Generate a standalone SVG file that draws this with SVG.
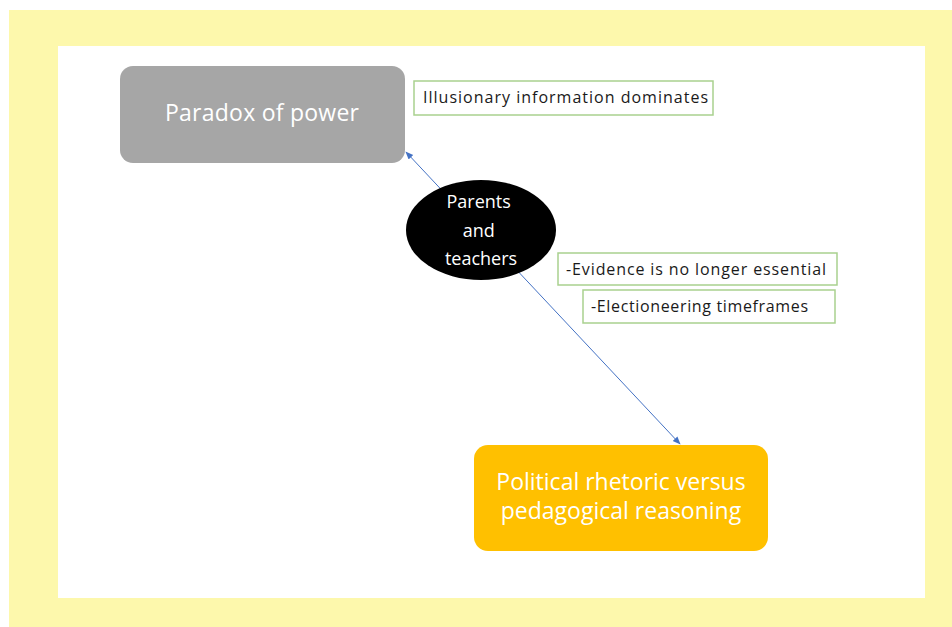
<svg xmlns="http://www.w3.org/2000/svg" width="952" height="627" viewBox="0 0 952 627">
  <defs>
    <marker id="arrow" viewBox="0 0 10 10" refX="9" refY="5" markerWidth="8" markerHeight="8" orient="auto-start-reverse" markerUnits="userSpaceOnUse">
      <path d="M0,1 L10,5 L0,9 z" fill="#4472c4"/>
    </marker>
  </defs>
  <style>
    .txt { font-family: "Open Sans", "Liberation Sans", sans-serif; }
    .big { fill: #ffffff; font-size: 23px; }
    .note { fill: #ffffff; stroke: #a9d18e; stroke-width: 1.5; }
    .notetxt { fill: #1a1a1a; font-size: 16px; }
  </style>

  <!-- frame -->
  <rect x="0" y="0" width="952" height="627" fill="#ffffff"/>
  <rect x="9" y="10" width="943" height="617" fill="#fdf8ac"/>
  <rect x="58" y="46" width="867" height="552" fill="#ffffff"/>

  <!-- connectors -->
  <g id="connectors">
    <line x1="406" y1="152" x2="680" y2="444" stroke="#4472c4" stroke-width="1" marker-start="url(#arrow)" marker-end="url(#arrow)"/>
  </g>

  <g id="paradox">
    <rect x="120" y="66" width="285" height="97" rx="13" fill="#a6a6a6"/>
    <text class="txt big" x="262" y="121" text-anchor="middle" textLength="194">Paradox of power</text>
  </g>

  <g id="note-illusionary">
    <rect class="note" x="414" y="81" width="299" height="34"/>
    <text class="txt notetxt" x="423" y="103" textLength="285">Illusionary information dominates</text>
  </g>

  <g id="parents">
    <ellipse cx="481" cy="230" rx="75" ry="50" fill="#000000"/>
    <text class="txt" fill="#ffffff" font-size="18" text-anchor="middle">
      <tspan x="481" y="208">Parents</tspan>
      <tspan x="481" y="237">and</tspan>
      <tspan x="481" y="265">teachers</tspan>
    </text>
  </g>

  <g id="note-evidence">
    <rect class="note" x="558" y="253" width="279" height="32"/>
    <text class="txt notetxt" x="566" y="275" textLength="260">-Evidence is no longer essential</text>
  </g>

  <g id="note-electioneering">
    <rect class="note" x="583" y="290" width="252" height="33"/>
    <text class="txt notetxt" x="591" y="312" textLength="217">-Electioneering timeframes</text>
  </g>

  <g id="political">
    <rect x="474" y="445" width="294" height="106" rx="14" fill="#ffc000"/>
    <text class="txt big" text-anchor="middle">
      <tspan x="624" y="490">Political rhetoric versus</tspan>
      <tspan x="621" y="519">pedagogical reasoning</tspan>
    </text>
  </g>
</svg>
